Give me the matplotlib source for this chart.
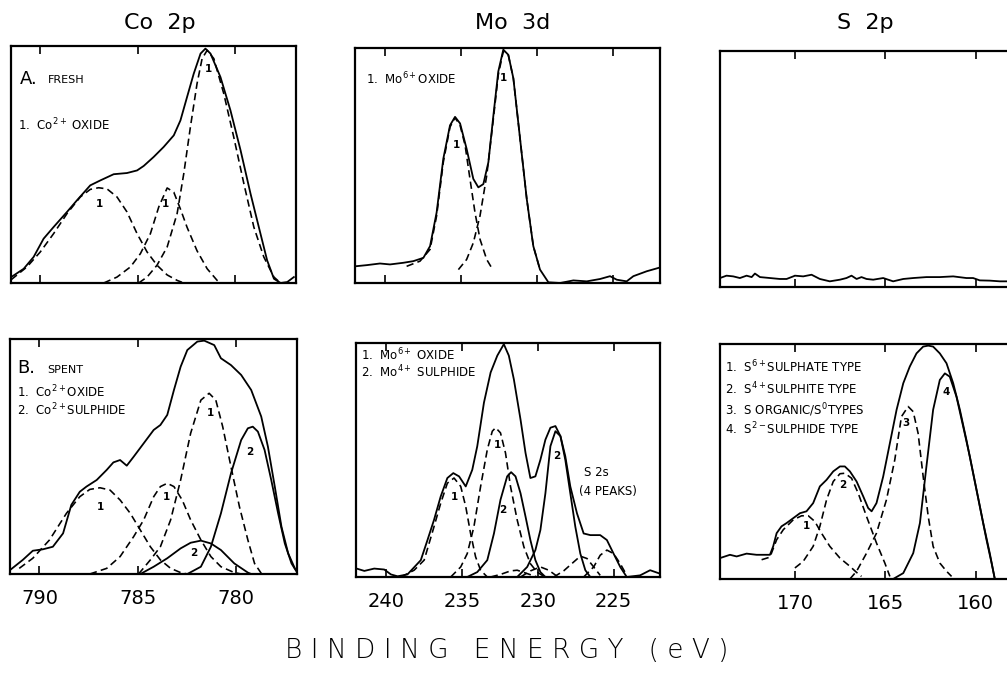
import matplotlib
matplotlib.use("Agg")
import matplotlib.pyplot as plt

# ---------------- data (binding energy in eV, relative intensity 0-100) -------------
CO_TICKS = [790, 785, 780]
MO_TICKS = [240, 235, 230, 225]
S_TICKS = [170, 165, 160]

# Co 2p  A. fresh
CO_A_ENV_E = [791.49, 790.85, 790.34, 789.83, 789.32, 788.63, 788.12, 787.44, 786.92, 786.24, 785.56, 785.04,
              784.70, 784.19, 783.68, 783.16, 782.82, 782.48, 782.14, 781.79, 781.54, 781.28, 780.77, 780.26,
              779.74, 779.23, 778.72, 778.38, 778.03, 777.69, 777.35, 777.01]
CO_A_ENV_I = [2.5, 6.0, 11.0, 18.7, 23.6, 30.0, 34.9, 41.2, 43.3, 45.9, 46.4, 47.5, 49.4, 53.2, 57.4, 62.3,
              68.6, 78.5, 88.3, 96.8, 98.9, 96.8, 86.9, 72.9, 56.0, 37.7, 20.8, 9.6, 1.8, 0.0, 0.4, 2.5]
CO_A_P1_E = [791.49, 790.68, 790.00, 789.32, 788.63, 787.95, 787.44, 787.01, 786.58, 786.07, 785.56, 785.04,
             784.53, 784.02, 783.50, 782.99, 782.74]
CO_A_P1_I = [1.4, 6.8, 13.1, 20.8, 29.3, 36.3, 39.5, 40.2, 39.7, 36.3, 30.0, 20.8, 13.1, 7.5, 3.4, 1.1, 0.3]
CO_A_P2_E = [786.75, 786.07, 785.38, 784.87, 784.36, 783.93, 783.50, 783.16, 782.82, 782.48, 781.97, 781.45,
             780.94, 780.77]
CO_A_P2_I = [0, 2.5, 6.8, 12.4, 20.8, 32.1, 40.1, 38.3, 31.2, 23.5, 13.6, 6.0, 1.1, 0]
CO_A_P3_E = [784.96, 784.53, 784.02, 783.50, 782.99, 782.65, 782.31, 781.97, 781.71, 781.45, 781.11, 780.60,
             780.09, 779.57, 779.06, 778.55, 778.03, 777.69]
CO_A_P3_I = [0, 2.5, 7.5, 15.2, 29.3, 46.1, 65.8, 84.1, 94.7, 98.2, 94.7, 79.9, 61.6, 41.9, 23.6, 11.0, 2.5, 0]

# Co 2p  B. spent
CO_B_ENV_E = [791.54, 790.85, 790.34, 789.83, 789.32, 788.80, 788.38, 787.95, 787.61, 787.09, 786.58, 786.24,
              785.90, 785.56, 785.21, 784.70, 784.19, 783.85, 783.50, 783.16, 782.82, 782.48, 781.97, 781.62,
              781.11, 780.77, 780.26, 779.74, 779.23, 778.72, 778.38, 778.03, 777.69, 777.35, 777.01]
CO_B_ENV_I = [1.4, 6.0, 9.9, 10.5, 11.6, 17.3, 29.4, 35.0, 37.2, 40.0, 44.3, 47.5, 48.5, 46.1, 49.9, 55.6,
              61.3, 63.4, 67.7, 78.3, 88.2, 95.3, 98.9, 99.3, 97.4, 91.8, 88.9, 84.7, 78.3, 67.0, 54.2, 37.2,
              20.1, 8.8, 2.4]
CO_B_OX1_E = [791.03, 790.34, 789.49, 788.63, 787.95, 787.44, 786.92, 786.41, 785.90, 785.38, 784.87, 784.36,
              783.85, 783.33, 782.82, 782.48]
CO_B_OX1_I = [2.4, 6.7, 14.5, 25.8, 32.9, 36.0, 36.7, 35.7, 31.5, 25.8, 18.7, 11.6, 6.0, 2.4, 0.6, 0]
CO_B_OX2_E = [787.44, 786.58, 785.90, 785.21, 784.70, 784.19, 783.85, 783.50, 783.16, 782.74, 782.31, 781.79,
              781.28, 780.77, 780.09, 779.74]
CO_B_OX2_I = [0, 2.4, 7.4, 15.9, 23.0, 32.9, 37.2, 38.6, 37.2, 31.5, 23.0, 14.5, 7.4, 3.1, 0.6, 0]
CO_B_OX3_E = [784.96, 784.36, 783.85, 783.33, 782.82, 782.31, 781.79, 781.37, 781.03, 780.68, 780.26, 779.83,
              779.40, 779.06, 778.72]
CO_B_OX3_I = [0, 6.0, 11.6, 23.0, 40.0, 59.9, 74.0, 76.9, 74.0, 62.7, 45.7, 28.7, 14.5, 4.5, 0.3]
CO_B_SU1_E = [784.87, 784.19, 783.50, 782.82, 782.31, 781.79, 781.28, 780.77, 780.09, 779.40, 779.23]
CO_B_SU1_I = [0, 3.1, 6.7, 10.9, 13.3, 14.2, 13.0, 10.2, 4.5, 0.6, 0]
CO_B_SU2_E = [782.48, 781.79, 781.28, 780.77, 780.26, 779.74, 779.40, 779.15, 778.89, 778.55, 778.21, 777.86,
              777.52, 777.18, 776.92]
CO_B_SU2_I = [0, 3.1, 11.6, 25.8, 42.8, 57.0, 62.0, 62.7, 60.6, 52.8, 40.0, 25.8, 13.0, 4.5, 1.0]

# Mo 3d  fresh
MO_A_ENV_E = [241.97, 241.20, 240.33, 239.67, 238.80, 238.14, 237.48, 237.04, 236.61, 236.17, 235.73, 235.40,
              235.07, 234.64, 234.20, 233.87, 233.54, 233.21, 232.88, 232.56, 232.23, 231.90, 231.57, 231.13,
              230.69, 230.26, 229.82, 229.27, 228.50, 227.63, 226.75, 225.88, 225.22, 224.78, 224.13, 223.69,
              222.81, 222.05]
MO_A_ENV_I = [7.1, 7.6, 8.3, 7.9, 8.6, 9.3, 10.7, 15.7, 30.0, 52.9, 67.1, 70.7, 67.9, 57.1, 44.3, 40.7, 42.1,
              51.4, 71.4, 90.0, 99.3, 97.1, 87.1, 61.4, 35.7, 15.7, 5.7, 0.3, 0.0, 1.1, 0.7, 1.7, 2.9, 1.4, 0.7,
              2.9, 5.0, 6.4]
MO_A_OX1_E = [238.58, 237.70, 237.04, 236.61, 236.17, 235.73, 235.40, 235.07, 234.74, 234.42, 234.09, 233.76,
              233.32, 232.99]
MO_A_OX1_I = [7.1, 9.3, 14.3, 28.6, 51.4, 66.4, 70.3, 67.1, 58.6, 44.3, 30.0, 18.6, 10.0, 6.4]
MO_A_OX2_E = [235.18, 234.64, 234.20, 233.76, 233.32, 232.88, 232.56, 232.23, 231.90, 231.57, 231.13, 230.69,
              230.26, 229.82]
MO_A_OX2_I = [5.7, 10.0, 17.1, 28.6, 45.7, 70.0, 88.6, 98.6, 96.9, 87.1, 61.4, 35.7, 15.7, 5.7]

# Mo 3d  spent
MO_B_ENV_E = [241.93, 241.42, 240.77, 240.11, 239.67, 239.23, 238.58, 237.70, 237.26, 236.83, 236.39, 235.95,
              235.56, 235.18, 234.74, 234.31, 233.98, 233.54, 233.10, 232.66, 232.23, 231.90, 231.57, 231.13,
              230.80, 230.48, 230.15, 229.82, 229.49, 229.16, 228.83, 228.50, 228.18, 227.85, 227.41, 226.97,
              226.53, 225.88, 225.44, 225.00, 224.56, 224.13, 223.25, 222.59, 221.93]
MO_B_ENV_I = [3.6, 2.6, 3.6, 3.2, 1.1, 0.3, 1.1, 7.2, 15.8, 24.4, 34.4, 42.3, 44.4, 43.0, 38.7, 45.8, 55.9,
              74.5, 87.4, 94.6, 99.5, 94.6, 84.5, 67.3, 53.0, 42.3, 43.0, 50.1, 58.7, 63.8, 64.5, 60.2, 51.6,
              38.7, 27.2, 18.6, 17.9, 17.9, 15.8, 10.0, 4.3, 0.0, 0.7, 2.9, 1.4]
MO_B_OX1_E = [239.01, 238.14, 237.48, 236.83, 236.39, 235.95, 235.51, 235.07, 234.74, 234.42, 234.09, 233.76,
              233.32]
MO_B_OX1_I = [0, 2.9, 7.2, 21.5, 31.5, 40.1, 42.3, 38.7, 30.1, 18.6, 8.6, 2.9, 0]
MO_B_OX2_E = [235.73, 235.07, 234.64, 234.20, 233.76, 233.32, 232.99, 232.77, 232.45, 232.12, 231.79, 231.35,
              230.91, 230.48, 230.04, 229.60]
MO_B_OX2_I = [0, 4.3, 10.0, 21.5, 38.7, 54.4, 62.3, 63.8, 61.6, 53.0, 38.7, 24.4, 12.9, 5.7, 2.1, 0.3]
MO_B_SU1_E = [234.64, 233.98, 233.32, 232.88, 232.45, 232.01, 231.75, 231.46, 231.13, 230.80, 230.48, 230.15,
              229.82, 229.49]
MO_B_SU1_I = [0, 2.1, 7.2, 18.6, 33.0, 43.0, 44.8, 43.0, 35.8, 25.8, 15.8, 7.2, 2.1, 0]
MO_B_SU2_E = [231.35, 230.69, 230.15, 229.82, 229.49, 229.16, 228.83, 228.50, 228.18, 227.85, 227.52, 227.19,
              226.86, 226.53]
MO_B_SU2_I = [0, 4.3, 11.5, 20.1, 35.8, 55.9, 62.3, 60.2, 50.1, 35.8, 21.5, 10.0, 2.9, 0]
MO_B_S2S1_E = [233.10, 232.45, 231.79, 231.35, 230.80, 230.04]
MO_B_S2S1_I = [0, 1.1, 2.6, 2.9, 1.7, 0]
MO_B_S2S2_E = [231.13, 230.48, 229.82, 229.27, 228.72]
MO_B_S2S2_I = [0, 2.6, 4.3, 2.9, 0.3]
MO_B_S2S3_E = [228.94, 228.29, 227.63, 227.19, 226.75, 226.31, 225.88]
MO_B_S2S3_I = [0, 2.6, 6.4, 8.9, 7.9, 4.3, 0.7]
MO_B_S2S4_E = [226.97, 226.31, 225.88, 225.44, 225.00, 224.56, 224.13]
MO_B_S2S4_I = [0, 4.3, 9.3, 11.5, 10.0, 5.7, 0.7]

# S 2p  fresh
S_A_E = [174.14, 173.78, 173.41, 173.04, 172.67, 172.39, 172.21, 171.93, 171.38, 170.83, 170.46, 170.09,
         170.00, 169.54, 169.08, 168.62, 168.07, 167.51, 167.15, 166.87, 166.59, 166.32, 166.04, 165.67,
         165.12, 164.57, 164.01, 163.46, 162.73, 161.99, 161.25, 160.52, 160.15, 159.78, 159.23, 158.67,
         158.21]
S_A_I = [3.8, 4.8, 4.5, 3.8, 4.8, 4.2, 5.7, 4.2, 3.8, 3.4, 3.4, 4.5, 4.8, 4.5, 5.2, 3.4, 2.4, 3.1, 3.8, 4.8,
         3.4, 4.2, 3.4, 3.1, 3.8, 2.4, 3.4, 3.8, 4.2, 4.2, 4.5, 3.8, 3.8, 2.8, 2.7, 2.4, 2.4]

# S 2p  spent
S_B_ENV_E = [174.14, 173.59, 173.22, 172.67, 172.12, 171.38, 171.20, 171.01, 170.74, 170.46, 170.09, 169.72,
             169.36, 168.99, 168.62, 168.25, 167.88, 167.51, 167.24, 166.96, 166.59, 166.22, 165.95, 165.76,
             165.49, 165.12, 164.75, 164.38, 164.01, 163.65, 163.28, 162.91, 162.63, 162.36, 161.99, 161.62,
             161.25, 160.88, 160.52, 160.15, 159.78, 159.41, 159.13, 158.95]
S_B_ENV_I = [8.9, 10.3, 9.6, 10.8, 10.3, 10.3, 13.9, 19.5, 22.4, 23.8, 25.9, 28.0, 28.8, 32.3, 39.4, 42.2,
             45.8, 47.9, 47.9, 45.8, 41.5, 35.1, 30.2, 28.8, 32.3, 43.6, 57.8, 72.0, 83.3, 90.4, 96.0, 98.9,
             99.3, 98.9, 96.0, 91.8, 83.3, 72.0, 59.2, 45.0, 30.9, 16.7, 6.8, 0.0]
S_B_C1_E = [171.84, 171.38, 171.01, 170.64, 170.09, 169.63, 169.26, 168.90, 168.53, 168.07, 167.51, 166.96,
            166.59, 166.32]
S_B_C1_I = [8.2, 9.3, 16.7, 21.0, 25.2, 26.9, 26.9, 24.5, 19.5, 13.9, 8.9, 5.4, 2.8, 1.1]
S_B_C2_E = [170.00, 169.54, 168.99, 168.62, 168.25, 167.88, 167.51, 167.24, 166.87, 166.50, 166.04, 165.49,
            165.03, 164.75]
S_B_C2_I = [4.7, 7.5, 13.9, 22.4, 33.7, 41.5, 44.8, 45.0, 42.9, 36.5, 26.6, 15.3, 6.8, 1.1]
S_B_C3_E = [166.96, 166.59, 166.04, 165.49, 164.94, 164.48, 164.11, 163.74, 163.46, 163.19, 162.91, 162.63,
            162.36, 161.99, 161.62, 161.34]
S_B_C3_I = [0, 3.3, 11.0, 19.5, 33.7, 50.7, 69.1, 73.4, 71.2, 62.0, 43.6, 26.6, 13.9, 6.8, 3.3, 1.1]
S_B_C4_E = [164.57, 164.01, 163.46, 163.09, 162.73, 162.36, 161.99, 161.71, 161.44, 161.07, 160.70, 160.33,
            159.96, 159.59, 159.23, 158.95]
S_B_C4_I = [0, 2.5, 11.0, 23.8, 47.9, 72.0, 84.7, 87.5, 86.1, 77.6, 64.9, 52.1, 38.0, 23.8, 11.0, 0]

# peak labels: (text, energy, intensity)
CO_A_PEAK_LABELS = [("1", 786.96, 33.5), ("1", 783.59, 33.2), ("1", 781.37, 90.4)]
CO_B_PEAK_LABELS = [("1", 786.92, 28.7), ("1", 783.56, 32.9), ("1", 781.28, 68.4),
                    ("2", 782.14, 8.8), ("2", 779.32, 52.1)]
MO_A_PEAK_LABELS = [("1", 235.34, 58.6), ("1", 232.23, 87.1)]
MO_B_PEAK_LABELS = [("1", 235.51, 34.4), ("1", 232.66, 56.6), ("2", 232.27, 28.7), ("2", 228.77, 51.6)]
S_B_PEAK_LABELS = [("1", 169.36, 22.4), ("2", 167.33, 40.1), ("3", 163.87, 66.3), ("4", 161.62, 79.7)]

# ---------------- figure -------------
W, H = 1007, 681
plt.rcParams['font.family'] = ['DejaVu Sans']
fig = plt.figure(figsize=(W / 100, H / 100), dpi=100)

LW = 1.3
DASH = (4.5, 2.6)


def make_axes(l, t, r, b, xlim, ticks, show_labels):
    ax = fig.add_axes([l / W, 1 - b / H, (r - l) / W, (b - t) / H])
    ax.set_xlim(*xlim)
    ax.set_ylim(0, 100)
    ax.set_xticks(ticks)
    ax.set_yticks([])
    ax.tick_params(axis='x', direction='in', top=True, bottom=True, length=6, width=1.2,
                   labelbottom=show_labels, labelsize=14, pad=11)
    for s in ax.spines.values():
        s.set_linewidth(1.6)
    return ax


def solid(ax, e, i):
    ax.plot(e, i, color='black', lw=LW, solid_joinstyle='round')


def dashed(ax, e, i):
    ax.plot(e, i, color='black', lw=LW * 0.9, dashes=DASH)


def peak_labels(ax, labels):
    for t, e, v in labels:
        ax.text(e, v, t, fontsize=7.5, fontweight='bold', ha='center', va='center')


CO_LIM = (791.5, 776.9)
MO_LIM = (241.97, 221.94)
S_LIM = (174.14, 158.0)
FS = 8.5

# Co top
ax = make_axes(11, 46, 296, 283, CO_LIM, CO_TICKS, False)
solid(ax, CO_A_ENV_E, CO_A_ENV_I)
dashed(ax, CO_A_P1_E, CO_A_P1_I)
dashed(ax, CO_A_P2_E, CO_A_P2_I)
dashed(ax, CO_A_P3_E, CO_A_P3_I)
peak_labels(ax, CO_A_PEAK_LABELS)
ax.text(0.03, 0.86, "A.", transform=ax.transAxes, fontsize=13, va='center')
ax.text(0.13, 0.855, "FRESH", transform=ax.transAxes, fontsize=8, va='center')
ax.text(0.025, 0.665, "1.  Co$^{2+}$ OXIDE", transform=ax.transAxes, fontsize=FS, va='center')

# Mo top
ax = make_axes(355, 48, 660, 283, MO_LIM, MO_TICKS, False)
solid(ax, MO_A_ENV_E, MO_A_ENV_I)
dashed(ax, MO_A_OX1_E, MO_A_OX1_I)
dashed(ax, MO_A_OX2_E, MO_A_OX2_I)
peak_labels(ax, MO_A_PEAK_LABELS)
ax.text(0.035, 0.87, "1.  Mo$^{6+}$OXIDE", transform=ax.transAxes, fontsize=FS, va='center')

# S top
ax = make_axes(720, 51, 1012, 287, S_LIM, S_TICKS, False)
solid(ax, S_A_E, S_A_I)

# Co bottom
ax = make_axes(10, 339, 297, 574, CO_LIM, CO_TICKS, True)
solid(ax, CO_B_ENV_E, CO_B_ENV_I)
dashed(ax, CO_B_OX1_E, CO_B_OX1_I)
dashed(ax, CO_B_OX2_E, CO_B_OX2_I)
dashed(ax, CO_B_OX3_E, CO_B_OX3_I)
solid(ax, CO_B_SU1_E, CO_B_SU1_I)
solid(ax, CO_B_SU2_E, CO_B_SU2_I)
peak_labels(ax, CO_B_PEAK_LABELS)
ax.text(0.025, 0.875, "B.", transform=ax.transAxes, fontsize=13, va='center')
ax.text(0.13, 0.87, "SPENT", transform=ax.transAxes, fontsize=8, va='center')
ax.text(0.025, 0.775, "1.  Co$^{2+}$OXIDE", transform=ax.transAxes, fontsize=FS, va='center')
ax.text(0.025, 0.70, "2.  Co$^{2+}$SULPHIDE", transform=ax.transAxes, fontsize=FS, va='center')

# Mo bottom
ax = make_axes(356, 343, 660, 577, MO_LIM, MO_TICKS, True)
solid(ax, MO_B_ENV_E, MO_B_ENV_I)
dashed(ax, MO_B_OX1_E, MO_B_OX1_I)
dashed(ax, MO_B_OX2_E, MO_B_OX2_I)
solid(ax, MO_B_SU1_E, MO_B_SU1_I)
solid(ax, MO_B_SU2_E, MO_B_SU2_I)
for e, i in [(MO_B_S2S1_E, MO_B_S2S1_I), (MO_B_S2S2_E, MO_B_S2S2_I),
             (MO_B_S2S3_E, MO_B_S2S3_I), (MO_B_S2S4_E, MO_B_S2S4_I)]:
    dashed(ax, e, i)
peak_labels(ax, MO_B_PEAK_LABELS)
ax.text(0.015, 0.95, "1.  Mo$^{6+}$ OXIDE", transform=ax.transAxes, fontsize=FS, va='center')
ax.text(0.015, 0.875, "2.  Mo$^{4+}$ SULPHIDE", transform=ax.transAxes, fontsize=FS, va='center')
ax.text(0.75, 0.445, "S 2s", transform=ax.transAxes, fontsize=FS, va='center')
ax.text(0.735, 0.365, "(4 PEAKS)", transform=ax.transAxes, fontsize=FS, va='center')

# S bottom
ax = make_axes(720, 344, 1012, 579, S_LIM, S_TICKS, True)
solid(ax, S_B_ENV_E, S_B_ENV_I)
dashed(ax, S_B_C1_E, S_B_C1_I)
dashed(ax, S_B_C2_E, S_B_C2_I)
dashed(ax, S_B_C3_E, S_B_C3_I)
solid(ax, S_B_C4_E, S_B_C4_I)
peak_labels(ax, S_B_PEAK_LABELS)
ax.text(0.017, 0.90, "1.  S$^{6+}$SULPHATE TYPE", transform=ax.transAxes, fontsize=FS, va='center')
ax.text(0.017, 0.81, "2.  S$^{4+}$SULPHITE TYPE", transform=ax.transAxes, fontsize=FS, va='center')
ax.text(0.017, 0.72, "3.  S ORGANIC/S$^{0}$TYPES", transform=ax.transAxes, fontsize=FS, va='center')
ax.text(0.017, 0.64, "4.  S$^{2-}$SULPHIDE TYPE", transform=ax.transAxes, fontsize=FS, va='center')

# titles
fig.text(160 / W, 1 - 23 / H, "Co  2p", fontsize=16, ha='center', va='center')
fig.text(513 / W, 1 - 23 / H, "Mo  3d", fontsize=16, ha='center', va='center')
fig.text(865 / W, 1 - 23 / H, "S  2p", fontsize=16, ha='center', va='center')
fig.text(507 / W, 1 - 651 / H, "B I N D I N G   E N E R G Y   ( e V )", fontsize=19,
         ha='center', va='center', fontweight='light')

fig.savefig("out.png", dpi=100)
